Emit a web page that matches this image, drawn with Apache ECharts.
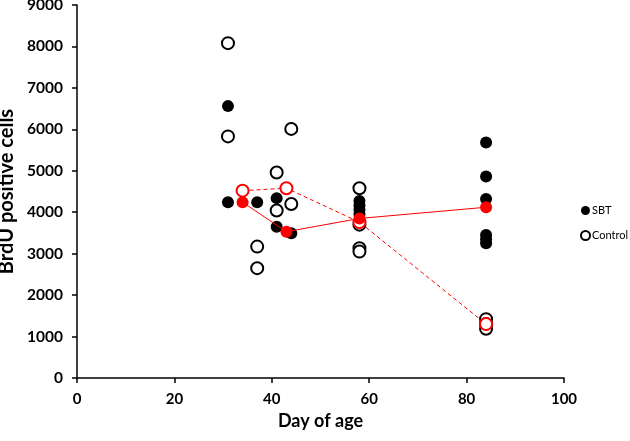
<!DOCTYPE html>
<html>
<head>
<meta charset="utf-8">
<script src="https://cdn.jsdelivr.net/npm/echarts@6/dist/echarts.min.js"></script>
<style>html,body{margin:0;padding:0;background:#fff}#c{width:630px;height:441px}</style>
</head>
<body>
<div id="c"></div>
<script>
// Individual animals: [day, BrdU positive cells]
var sbtPoints = [
  [31, 6560], [31, 4240],
  [37, 4240],
  [41, 4340], [41, 3650],
  [44, 3490],
  [58, 4270], [58, 4160], [58, 4060], [58, 3950],
  [84, 5680], [84, 4860], [84, 4320], [84, 3450], [84, 3350], [84, 3250]
];
var controlPoints = [
  [31, 8080], [31, 5830],
  [37, 3170], [37, 2650],
  [41, 4960], [41, 4040],
  [44, 6010], [44, 4200],
  [58, 4580], [58, 3700], [58, 3130], [58, 3050],
  [84, 1420], [84, 1300], [84, 1190]
];
// Group means
var meanDays = [34, 43, 58, 84];
var sbtMean = [4240, 3530, 3850, 4120];
var controlMean = [4520, 4580, 3760, 1300];

var xTicks = {min: 0, max: 100, interval: 20};
var yTicks = {min: 0, max: 9000, interval: 1000};

function pairs(xs, ys) { return xs.map(function (x, i) { return [x, ys[i]]; }); }

var FONT = 'Lato';
var chart = echarts.init(document.getElementById('c'), null, {renderer: 'canvas'});
chart.setOption({
  animation: false,
  backgroundColor: '#fff',
  grid: {left: 77, right: 66, top: 5, bottom: 63, containLabel: false, outerBoundsMode: 'none'},
  legend: {
    orient: 'vertical', left: 580, top: 205, padding: 0, itemWidth: 9, itemHeight: 9, itemGap: 14,
    data: ['SBT', 'Control'],
    textStyle: {color: '#000', fontSize: 11, fontFamily: 'Lato', padding: [0, 0, 0, -3]}
  },
  xAxis: {
    type: 'value', min: xTicks.min, max: xTicks.max, interval: xTicks.interval,
    name: 'Day of age', nameLocation: 'middle', nameGap: 31,
    nameTextStyle: {color: '#000', fontSize: 18, fontWeight: 'bold', fontFamily: FONT},
    axisLine: {show: true, lineStyle: {color: '#000', width: 1.5}},
    axisTick: {show: true, inside: false, length: 5, lineStyle: {color: '#000', width: 1.5}},
    axisLabel: {color: '#000', fontSize: 15, fontWeight: 'bold', fontFamily: FONT, margin: 14},
    splitLine: {show: false}
  },
  yAxis: {
    type: 'value', min: yTicks.min, max: yTicks.max, interval: yTicks.interval,
    name: 'BrdU positive cells', nameLocation: 'middle', nameGap: 49, nameRotate: 90,
    nameTextStyle: {color: '#000', fontSize: 20, fontWeight: 'bold', fontFamily: FONT},
    axisLine: {show: true, lineStyle: {color: '#000', width: 1.5}},
    axisTick: {show: true, inside: false, length: 5, lineStyle: {color: '#000', width: 1.5}},
    axisLabel: {color: '#000', fontSize: 15.5, fontWeight: 'bold', fontFamily: FONT, margin: 14,
      formatter: function (v) { return String(v); }},
    splitLine: {show: false}
  },
  series: [
    {
      name: 'SBT', type: 'scatter', data: sbtPoints, symbol: 'circle', symbolSize: 12, z: 2,
      itemStyle: {color: '#000', borderColor: '#000', borderWidth: 0, opacity: 1}
    },
    {
      name: 'Control', type: 'scatter', data: controlPoints, symbol: 'circle', symbolSize: 12, z: 2,
      itemStyle: {color: '#fff', borderColor: '#000', borderWidth: 2, opacity: 1}
    },
    {
      name: 'SBT mean', type: 'line', data: pairs(meanDays, sbtMean), symbol: 'circle', symbolSize: 12, z: 4,
      showAllSymbol: true,
      lineStyle: {color: '#ff0000', width: 1, type: 'solid'},
      itemStyle: {color: '#ff0000', borderColor: '#ff0000', borderWidth: 0, opacity: 1}
    },
    {
      name: 'Control mean', type: 'line', data: pairs(meanDays, controlMean), symbol: 'circle', symbolSize: 12, z: 3,
      showAllSymbol: true,
      lineStyle: {color: '#ff0000', width: 1, type: [4, 3]},
      itemStyle: {color: '#fff', borderColor: '#ff0000', borderWidth: 2, opacity: 1}
    }
  ]
});
</script>
</body>
</html>
